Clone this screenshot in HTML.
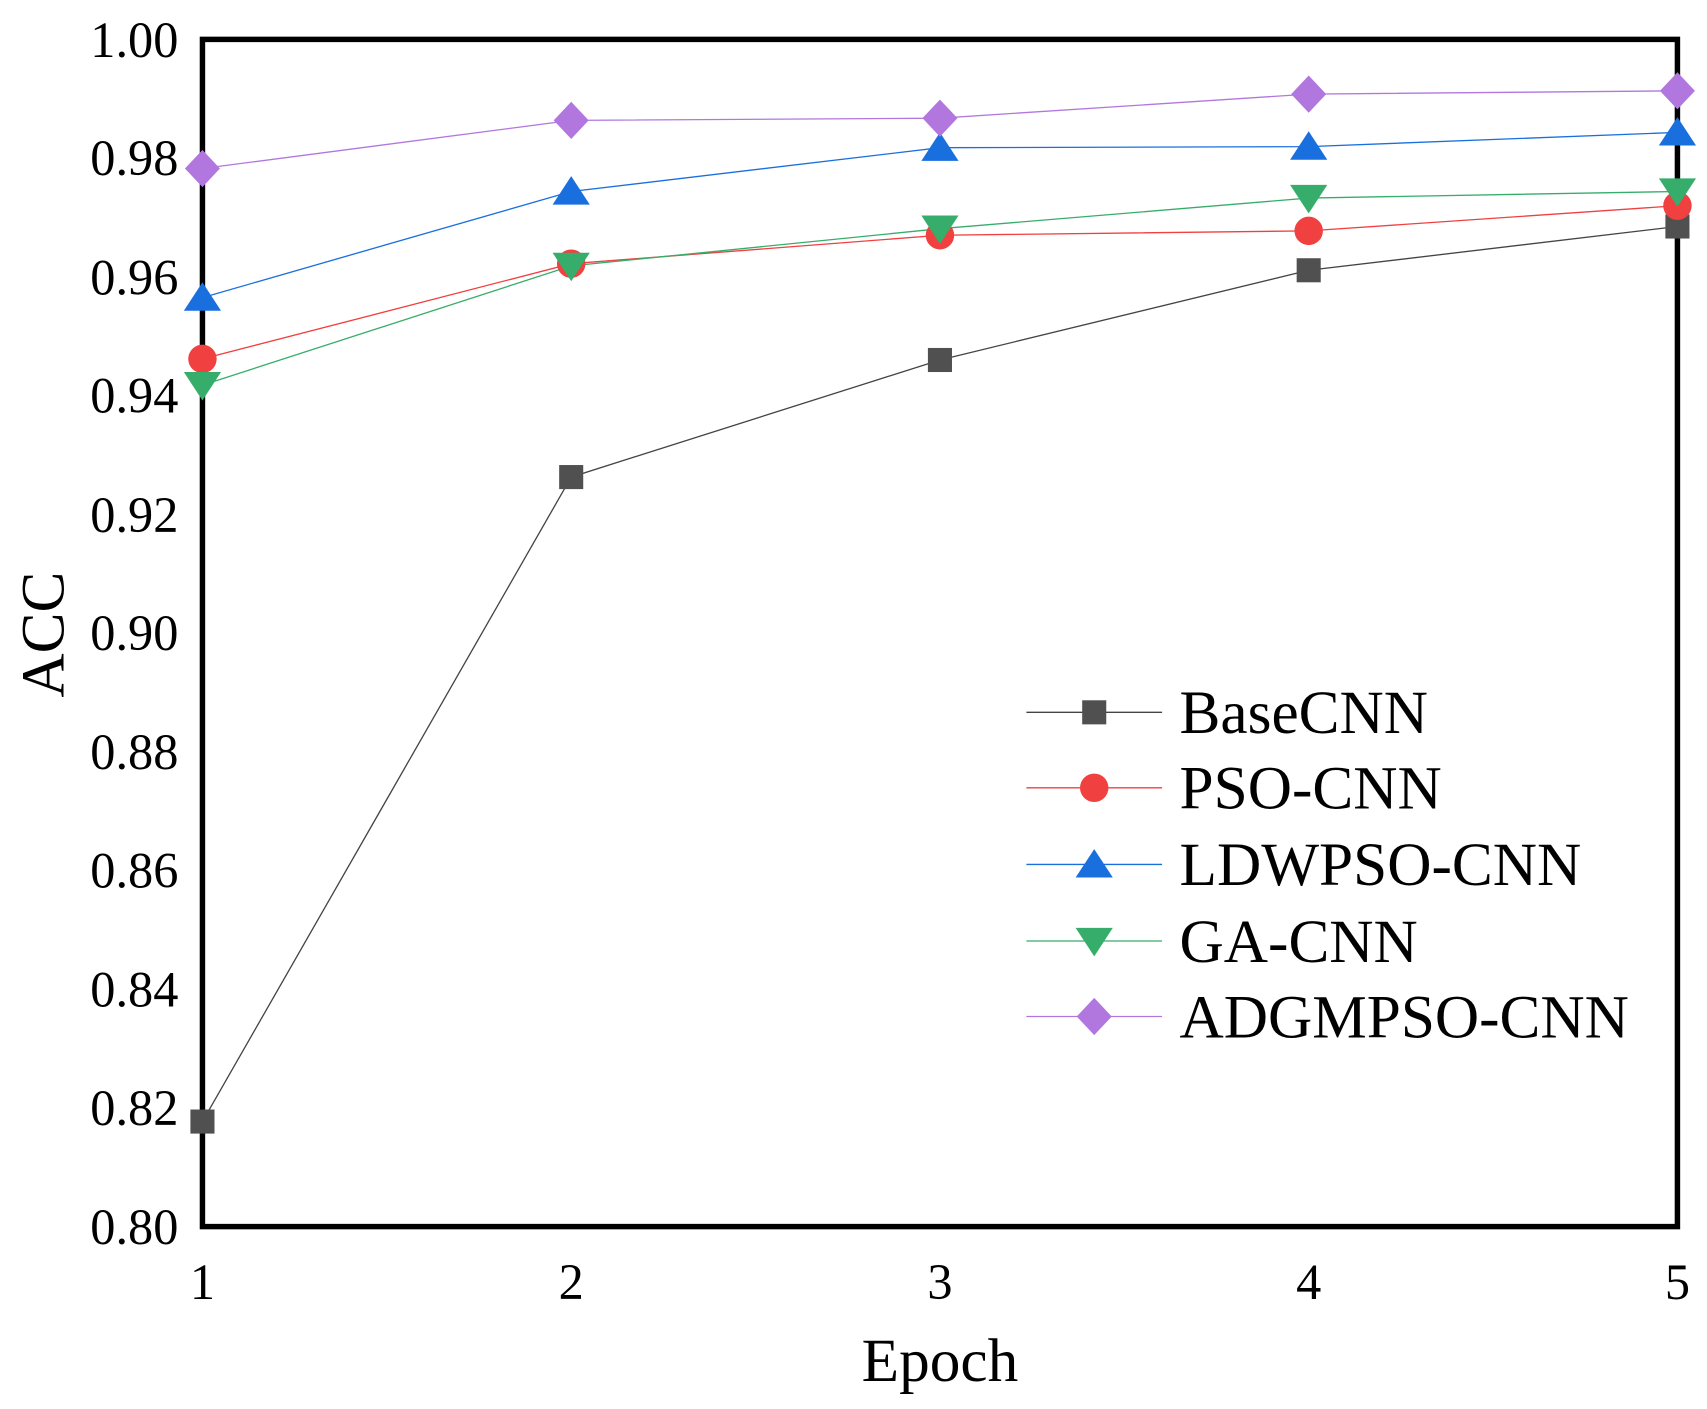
<!DOCTYPE html>
<html><head><meta charset="utf-8"><style>html,body{margin:0;padding:0;background:#fff;}svg{display:block;}</style></head>
<body>
<svg width="1707" height="1409" viewBox="0 0 1560 1287.7" xmlns="http://www.w3.org/2000/svg" font-family="'Liberation Serif', serif">
<rect width="1560" height="1288" fill="#fff"/>
<g font-size="46" text-anchor="end" fill="#000">
<text x="163" y="52">1.00</text>
<text x="163" y="160">0.98</text>
<text x="163" y="269">0.96</text>
<text x="163" y="377">0.94</text>
<text x="163" y="486">0.92</text>
<text x="163" y="594">0.90</text>
<text x="163" y="703">0.88</text>
<text x="163" y="811">0.86</text>
<text x="163" y="920">0.84</text>
<text x="163" y="1028">0.82</text>
<text x="163" y="1137">0.80</text>
</g>
<g font-size="46" text-anchor="middle">
<text x="185" y="1187">1</text><text x="522" y="1187">2</text><text x="859" y="1187">3</text><text x="1196" y="1187">4</text><text x="1533" y="1187">5</text>
</g>
<text x="859" y="1262" font-size="56" text-anchor="middle">Epoch</text>
<text transform="translate(58,580) rotate(-90)" font-size="56" text-anchor="middle">ACC</text>
<rect x="185" y="36" width="1348" height="1085" fill="none" stroke="#000" stroke-width="5"/>
<g fill="none" stroke-width="1.2">
<polyline stroke="#444" points="185,1025 522,436 859,329 1196,247 1533,207"/>
<polyline stroke="#f04040" points="185,328 522,241 859,215 1196,211 1533,188"/>
<polyline stroke="#1a6fdf" points="185,272 522,175 859,135 1196,134 1533,121"/>
<polyline stroke="#37ad6b" points="185,352 522,243 859,209 1196,181 1533,175"/>
<polyline stroke="#b177de" points="185,154 522,110 859,108 1196,86 1533,83"/>
</g>
<g fill="#505050">
<rect x="174" y="1014" width="22" height="22"/><rect x="511" y="425" width="22" height="22"/><rect x="848" y="318" width="22" height="22"/><rect x="1185" y="236" width="22" height="22"/><rect x="1522" y="196" width="22" height="22"/>
</g>
<g fill="#f04040">
<circle cx="185" cy="328" r="13"/><circle cx="522" cy="241" r="13"/><circle cx="859" cy="215" r="13"/><circle cx="1196" cy="211" r="13"/><circle cx="1533" cy="188" r="13"/>
</g>
<g fill="#1a6fdf">
<polygon points="185,258 168,284 202,284"/><polygon points="522,161 505,187 539,187"/><polygon points="859,121 842,147 876,147"/><polygon points="1196,120 1179,146 1213,146"/><polygon points="1533,107 1516,133 1550,133"/>
</g>
<g fill="#37ad6b">
<polygon points="185,366 168,340 202,340"/><polygon points="522,257 505,231 539,231"/><polygon points="859,223 842,197 876,197"/><polygon points="1196,195 1179,169 1213,169"/><polygon points="1533,189 1516,163 1550,163"/>
</g>
<g fill="#b177de">
<polygon points="185,137 201,154 185,171 169,154"/><polygon points="522,93 538,110 522,127 506,110"/><polygon points="859,91 875,108 859,125 843,108"/><polygon points="1196,69 1212,86 1196,103 1180,86"/><polygon points="1533,66 1549,83 1533,100 1517,83"/>
</g>
<g stroke-width="1.2">
<line x1="938" y1="651" x2="1062" y2="651" stroke="#444"/>
<line x1="938" y1="720" x2="1062" y2="720" stroke="#f04040"/>
<line x1="938" y1="790" x2="1062" y2="790" stroke="#1a6fdf"/>
<line x1="938" y1="860" x2="1062" y2="860" stroke="#37ad6b"/>
<line x1="938" y1="929" x2="1062" y2="929" stroke="#b177de"/>
</g>
<rect x="989" y="640" width="22" height="22" fill="#505050"/>
<circle cx="1000" cy="720" r="13" fill="#f04040"/>
<polygon points="1000,776 983,802 1017,802" fill="#1a6fdf"/>
<polygon points="1000,874 983,848 1017,848" fill="#37ad6b"/>
<polygon points="1000,912 1016,929 1000,946 984,929" fill="#b177de"/>
<g font-size="56">
<text x="1078" y="670">BaseCNN</text>
<text x="1078" y="739">PSO-CNN</text>
<text x="1078" y="809">LDWPSO-CNN</text>
<text x="1078" y="879">GA-CNN</text>
<text x="1078" y="948">ADGMPSO-CNN</text>
</g>
</svg>
</body></html>
